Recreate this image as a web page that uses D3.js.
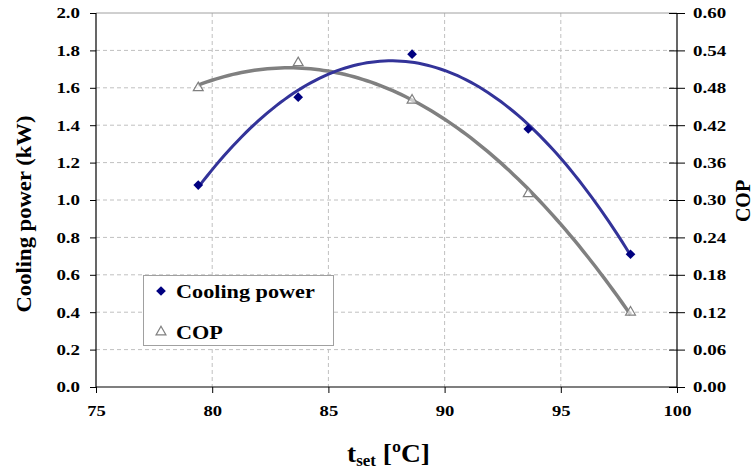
<!DOCTYPE html>
<html>
<head>
<meta charset="utf-8">
<script src="https://cdn.jsdelivr.net/npm/d3@7"></script>
<style>
  html, body { margin: 0; padding: 0; background: #fff; }
  svg { display: block; }
  text { font-family: "Liberation Serif", "Times New Roman", serif; font-weight: bold; fill: #000; }
</style>
</head>
<body>
<svg id="chart" width="754" height="472"></svg>
<script>
// Measured set temperature (°C) and the two responses
const tset    = [79.4, 83.7, 88.6, 93.6, 98.0];
const cooling = [1.08, 1.55, 1.78, 1.38, 0.71];   // kW
const cop     = [0.48, 0.52, 0.46, 0.31, 0.12];

const xTicks  = [75, 80, 85, 90, 95, 100];
const yTicks  = [0, 0.2, 0.4, 0.6, 0.8, 1.0, 1.2, 1.4, 1.6, 1.8, 2.0];
const y2Ticks = [0, 0.06, 0.12, 0.18, 0.24, 0.30, 0.36, 0.42, 0.48, 0.54, 0.60];

const svg = d3.select("#chart");
const L = 96, R = 677, T = 13, B = 387;

const x  = d3.scaleLinear().domain([75, 100]).range([L, R]);
const y  = d3.scaleLinear().domain([0, 2]).range([B, T]);
const y2 = d3.scaleLinear().domain([0, 0.6]).range([B, T]);

// widen glyphs horizontally like the original bold Times rendering
function stretch(sel, k) {
  sel.each(function () {
    const w = this.getComputedTextLength();
    this.setAttribute("textLength", (w * k).toFixed(1));
    this.setAttribute("lengthAdjust", "spacingAndGlyphs");
  });
}

// grid
const grid = svg.append("g");
grid.selectAll("line.h").data(yTicks.filter(v => v > 0 && v < 2)).join("line")
  .attr("x1", L).attr("x2", R).attr("y1", d => y(d)).attr("y2", d => y(d))
  .attr("stroke", "#c0c0c0").attr("stroke-width", 1).attr("stroke-dasharray", "4,3");
grid.selectAll("line.v").data(xTicks.filter(v => v > 75 && v < 100)).join("line")
  .attr("y1", T).attr("y2", B).attr("x1", d => x(d)).attr("x2", d => x(d))
  .attr("stroke", "#c0c0c0").attr("stroke-width", 1).attr("stroke-dasharray", "4,3");
// top border of plot area
svg.append("line").attr("x1", L).attr("x2", R).attr("y1", T).attr("y2", T)
  .attr("stroke", "#a0a0a0").attr("stroke-width", 1);

// quadratic least-squares trendline
function quadFit(xs, ys) {
  const n = xs.length;
  let s = [0, 0, 0, 0, 0], t = [0, 0, 0];
  for (let i = 0; i < n; i++) {
    const xv = xs[i], yv = ys[i];
    for (let k = 0; k <= 4; k++) s[k] += Math.pow(xv, k);
    for (let k = 0; k <= 2; k++) t[k] += yv * Math.pow(xv, k);
  }
  const M = [[s[0], s[1], s[2], t[0]], [s[1], s[2], s[3], t[1]], [s[2], s[3], s[4], t[2]]];
  for (let i = 0; i < 3; i++) {
    let p = i;
    for (let r = i + 1; r < 3; r++) if (Math.abs(M[r][i]) > Math.abs(M[p][i])) p = r;
    [M[i], M[p]] = [M[p], M[i]];
    for (let r = 0; r < 3; r++) {
      if (r === i) continue;
      const f = M[r][i] / M[i][i];
      for (let c = i; c < 4; c++) M[r][c] -= f * M[i][c];
    }
  }
  const c0 = M[0][3] / M[0][0], c1 = M[1][3] / M[1][1], c2 = M[2][3] / M[2][2];
  return v => c0 + c1 * v + c2 * v * v;
}

function trendPts(xs, ys) {
  const f = quadFit(xs, ys);
  const lo = d3.min(xs), hi = d3.max(xs);
  return d3.range(0, 101).map(i => { const v = lo + (hi - lo) * i / 100; return [v, f(v)]; });
}

svg.append("path").datum(trendPts(tset, cop))
  .attr("fill", "none").attr("stroke", "#808080").attr("stroke-width", 3.5)
  .attr("d", d3.line().x(d => x(d[0])).y(d => y2(d[1])));
svg.append("path").datum(trendPts(tset, cooling))
  .attr("fill", "none").attr("stroke", "#333399").attr("stroke-width", 3)
  .attr("d", d3.line().x(d => x(d[0])).y(d => y(d[1])));

// markers
const diamond = d3.symbol().type(d3.symbolDiamond2).size(60);
const tri = d3.symbol().type(d3.symbolTriangle2).size(70);
svg.append("g").selectAll("path").data(tset.map((t, i) => [t, cooling[i]])).join("path")
  .attr("transform", d => `translate(${x(d[0])},${y(d[1])})`)
  .attr("d", diamond).attr("fill", "#000080");
svg.append("g").selectAll("path").data(tset.map((t, i) => [t, cop[i]])).join("path")
  .attr("transform", d => `translate(${x(d[0])},${y2(d[1])})`)
  .attr("d", tri).attr("fill", "#fff").attr("fill-opacity", 0.6).attr("stroke", "#808080").attr("stroke-width", 1.2);

// axes
const axL = svg.append("g").attr("transform", `translate(${L},0)`)
  .call(d3.axisLeft(y).tickValues(yTicks).tickFormat(d3.format(".1f")).tickSize(6).tickPadding(10));
const axR = svg.append("g").attr("transform", `translate(${R},0)`)
  .call(d3.axisRight(y2).tickValues(y2Ticks).tickFormat(d3.format(".2f")).tickSize(8).tickPadding(8));
axR.selectAll(".tick line").attr("x1", -8);
const axB = svg.append("g").attr("transform", `translate(0,${B})`)
  .call(d3.axisBottom(x).tickValues(xTicks).tickFormat(d3.format("d")).tickSize(6).tickPadding(12));

[axL, axR, axB].forEach(a => {
  a.select(".domain").attr("stroke", "#000").attr("stroke-width", 1.2);
  a.selectAll(".tick line").attr("stroke", "#000");
  a.selectAll("text").attr("font-size", 15.5).attr("font-family", null).attr("fill", "#000");
});
axL.select(".domain").attr("d", `M0,${T}V${B}`);
axR.select(".domain").attr("d", `M0,${T}V${B}`);
axB.select(".domain").attr("d", `M${L},0H${R}`);
stretch(axL.selectAll("text"), 1.22);
stretch(axR.selectAll("text"), 1.22);
stretch(axB.selectAll("text"), 1.2);

// axis titles
const yt = svg.append("text")
  .attr("transform", `translate(31,${(T + B) / 2 + 14}) rotate(-90)`)
  .attr("text-anchor", "middle").attr("font-size", 21)
  .text("Cooling power (kW)");
yt.attr("textLength", 197).attr("lengthAdjust", "spacingAndGlyphs");

svg.append("text")
  .attr("transform", `translate(750,201) rotate(-90)`)
  .attr("text-anchor", "middle").attr("font-size", 20)
  .text("COP");

const xt = svg.append("text").attr("x", 347).attr("y", 462).attr("font-size", 26);
xt.append("tspan").text("t");
xt.append("tspan").attr("font-size", 16).attr("dy", 4).text("set");
xt.append("tspan").attr("dy", -4).text(" [ºC]");
xt.attr("textLength", 83).attr("lengthAdjust", "spacingAndGlyphs");

// legend
const lg = svg.append("g");
lg.append("rect").attr("x", 143.5).attr("y", 275.5).attr("width", 190).attr("height", 70)
  .attr("fill", "#fff").attr("stroke", "#a0a0a0").attr("stroke-width", 1);
lg.append("path").attr("transform", "translate(161,291)").attr("d", diamond).attr("fill", "#000080");
lg.append("path").attr("transform", "translate(161,332)").attr("d", tri)
  .attr("fill", "#fff").attr("stroke", "#808080").attr("stroke-width", 1.2);
const l1 = lg.append("text").attr("x", 176).attr("y", 298).attr("font-size", 18.5).text("Cooling power");
const l2 = lg.append("text").attr("x", 176).attr("y", 339).attr("font-size", 18.5).text("COP");
stretch(l1, 1.2);
stretch(l2, 1.2);
</script>
</body>
</html>
